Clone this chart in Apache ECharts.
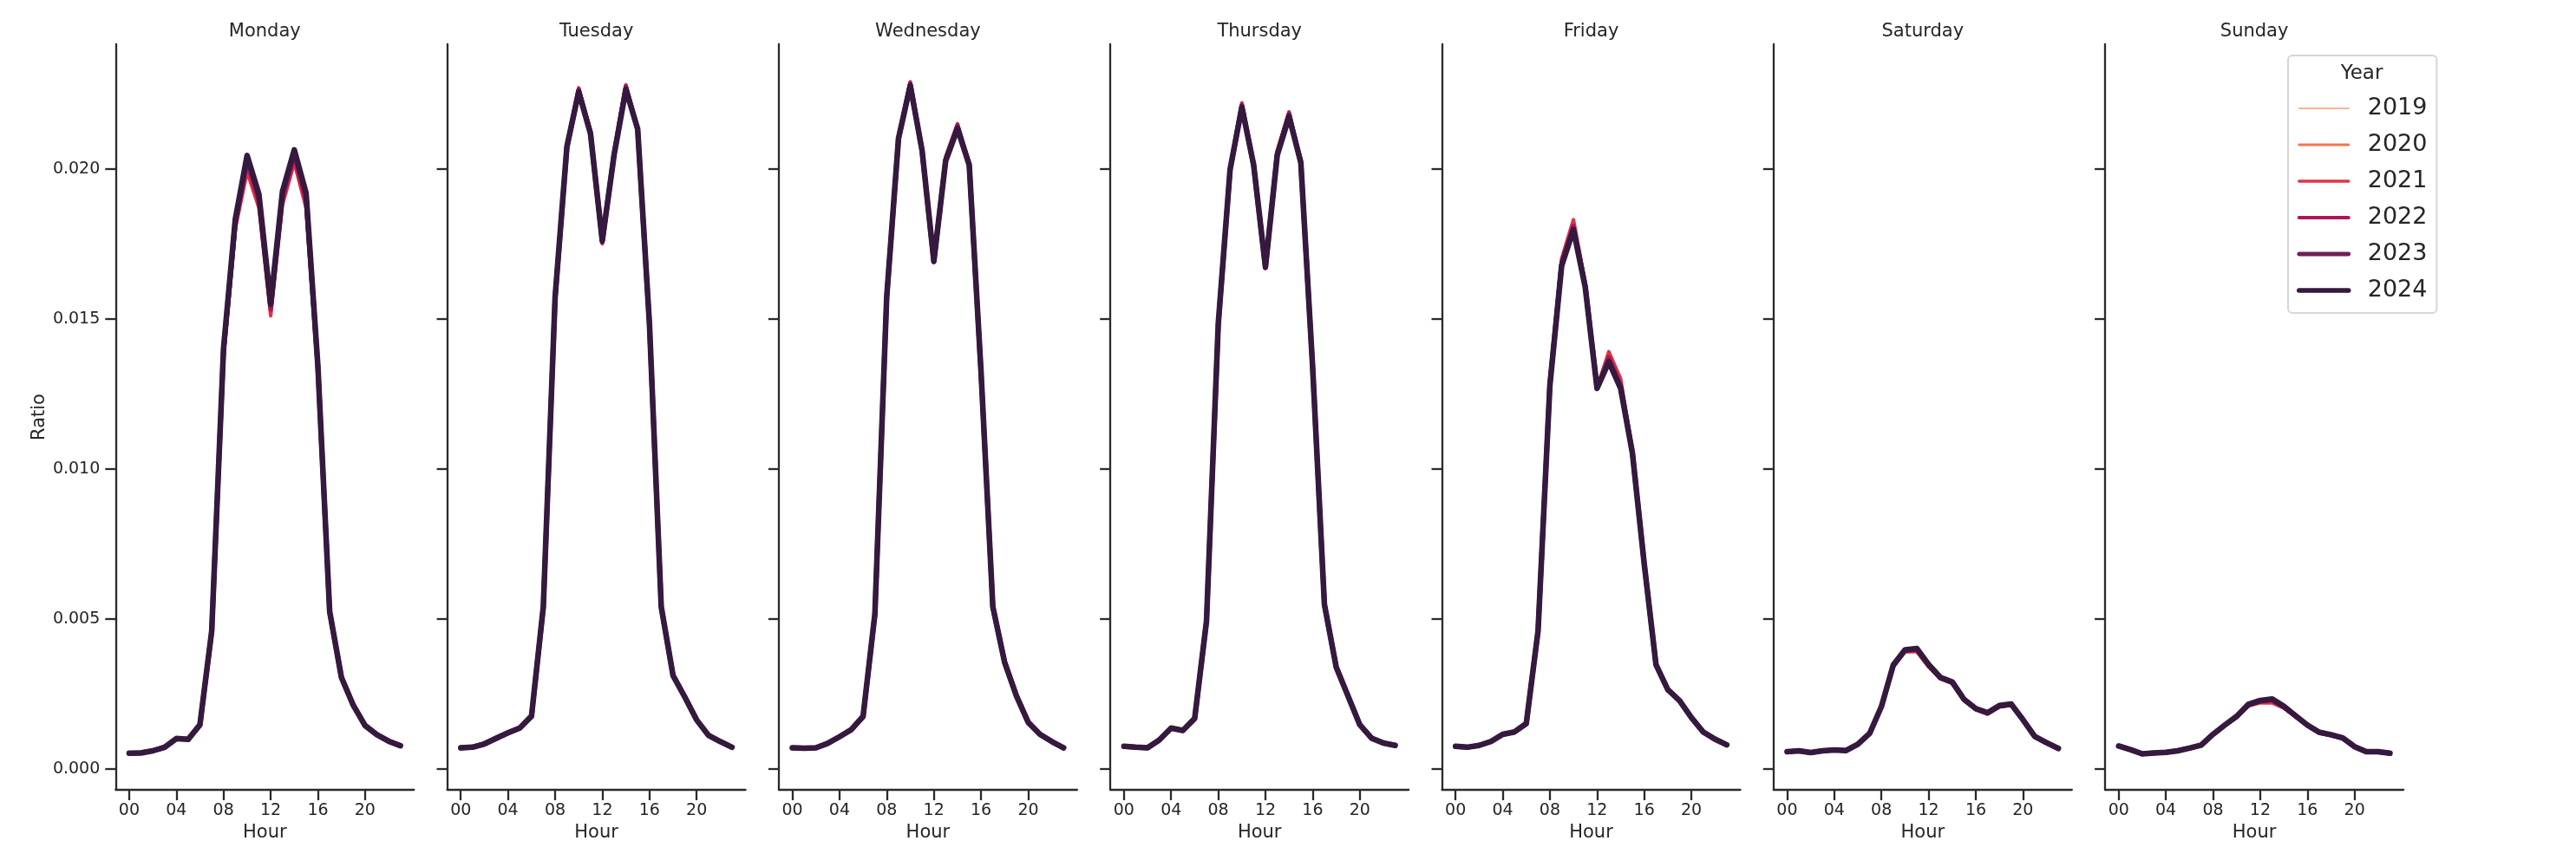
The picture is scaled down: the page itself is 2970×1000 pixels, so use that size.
<!DOCTYPE html>
<html>
<head>
<meta charset="utf-8">
<script src="https://cdn.jsdelivr.net/npm/echarts@6/dist/echarts.min.js"></script>
<style>html,body{margin:0;padding:0;background:#fff}#chart{width:2970px;height:1000px}</style>
</head>
<body>
<div id="chart"></div>
<script>
const hours = [0,1,2,3,4,5,6,7,8,9,10,11,12,13,14,15,16,17,18,19,20,21,22,23];
const days = ['Monday','Tuesday','Wednesday','Thursday','Friday','Saturday','Sunday'];
const years = ['2019','2020','2021','2022','2023','2024'];
const yearColors = ['#f6b48f','#f37651','#e13342','#ad1759','#701f57','#35193e'];
const yearWidths = [2.5, 3.3, 4.1, 4.9, 5.7, 6.5];
const xTickValues = [0,4,8,12,16,20];
const yTickValues = [0,0.005,0.01,0.015,0.02];

const mon2019 = [0.00052,0.00053,0.0006,0.00072,0.00101,0.00098,0.00147,0.00459,0.01395,0.01825,0.0204,0.0191,0.0155,0.0192,0.0206,0.0191,0.01342,0.00524,0.00304,0.00212,0.00144,0.00114,0.00092,0.00077];
const mon2020 = [0.00052,0.00054,0.0006,0.00072,0.001,0.00098,0.00146,0.00458,0.0139,0.0182,0.0203,0.019,0.0154,0.0191,0.0205,0.019,0.0134,0.00524,0.00305,0.00213,0.00145,0.00115,0.00093,0.00077];
const mon2021 = [0.00053,0.00055,0.00061,0.00073,0.00099,0.00097,0.00145,0.0045,0.0137,0.018,0.0199,0.0187,0.0151,0.0188,0.0202,0.0187,0.0132,0.00518,0.00308,0.00216,0.00147,0.00116,0.00094,0.00079];
const mon2022 = [0.00053,0.00054,0.00061,0.00072,0.001,0.00098,0.00146,0.00455,0.01385,0.0181,0.0202,0.0189,0.0153,0.019,0.0204,0.0189,0.0133,0.0052,0.00306,0.00214,0.00146,0.00115,0.00093,0.00078];
const mon2023 = [0.00052,0.00054,0.0006,0.00071,0.001,0.00099,0.00146,0.00458,0.01395,0.01826,0.02038,0.01908,0.01545,0.01918,0.02055,0.01912,0.0134,0.00523,0.00305,0.00213,0.00145,0.00114,0.00093,0.00077];
const mon2024 = [0.00052,0.00053,0.0006,0.00072,0.00101,0.00098,0.00147,0.0046,0.014,0.01832,0.02044,0.01915,0.0155,0.01924,0.02063,0.01919,0.01344,0.00525,0.00304,0.00212,0.00144,0.00114,0.00092,0.00077];

const tue2019 = [0.0007,0.00072,0.00083,0.00102,0.0012,0.00136,0.00176,0.0054,0.01571,0.02072,0.02252,0.02114,0.0176,0.02043,0.0226,0.0213,0.01483,0.0054,0.00311,0.00239,0.00163,0.00112,0.00091,0.00072];
const tue2020 = [0.0007,0.00072,0.00083,0.00102,0.0012,0.00136,0.00176,0.00539,0.0157,0.0207,0.0225,0.0211,0.0176,0.0204,0.0226,0.0213,0.01482,0.0054,0.00311,0.00239,0.00163,0.00112,0.00091,0.00072];
const tue2021 = [0.00071,0.00072,0.00082,0.001,0.00118,0.00134,0.00174,0.00534,0.0156,0.0207,0.0227,0.0212,0.0175,0.0205,0.0228,0.0213,0.01475,0.00537,0.00313,0.00241,0.00165,0.00113,0.00092,0.00073];
const tue2022 = [0.0007,0.00071,0.00082,0.00101,0.00119,0.00135,0.00175,0.00536,0.01565,0.0207,0.02265,0.0212,0.01755,0.0205,0.02275,0.0213,0.01478,0.00538,0.00312,0.0024,0.00164,0.00113,0.00091,0.00072];
const tue2023 = [0.0007,0.00072,0.00083,0.00101,0.0012,0.00136,0.00175,0.00538,0.01568,0.0207,0.0226,0.0212,0.01758,0.0205,0.0227,0.0213,0.0148,0.00539,0.00311,0.00239,0.00163,0.00112,0.00091,0.00072];
const tue2024 = [0.0007,0.00072,0.00083,0.00102,0.0012,0.00136,0.00176,0.0054,0.01572,0.02074,0.02256,0.02117,0.0176,0.02045,0.02264,0.02133,0.01484,0.0054,0.00311,0.00239,0.00163,0.00112,0.00091,0.00072];

const wed2019 = [0.0007,0.00069,0.0007,0.00085,0.00107,0.00131,0.00175,0.00516,0.01571,0.021,0.02274,0.0206,0.01692,0.02024,0.0213,0.0201,0.01323,0.0054,0.00355,0.00243,0.00155,0.00115,0.00091,0.0007];
const wed2020 = [0.0007,0.00069,0.0007,0.00085,0.00107,0.00131,0.00175,0.00515,0.0157,0.021,0.02275,0.0206,0.0169,0.02025,0.0213,0.0201,0.01322,0.0054,0.00355,0.00243,0.00155,0.00115,0.00091,0.0007];
const wed2021 = [0.00071,0.0007,0.0007,0.00085,0.00106,0.00129,0.00173,0.0051,0.01565,0.021,0.0229,0.0206,0.0169,0.0204,0.0215,0.0202,0.01315,0.00537,0.00356,0.00245,0.00157,0.00116,0.00092,0.00071];
const wed2022 = [0.0007,0.00069,0.0007,0.00085,0.00106,0.0013,0.00174,0.00512,0.01568,0.021,0.02285,0.0206,0.0169,0.0203,0.02145,0.0201,0.01318,0.00538,0.00355,0.00244,0.00156,0.00115,0.00091,0.0007];
const wed2023 = [0.0007,0.00069,0.0007,0.00085,0.00107,0.0013,0.00174,0.00514,0.0157,0.021,0.0228,0.0206,0.0169,0.0203,0.0214,0.0201,0.0132,0.0054,0.00355,0.00243,0.00155,0.00115,0.00091,0.0007];
const wed2024 = [0.0007,0.00069,0.0007,0.00085,0.00107,0.00131,0.00175,0.00516,0.01572,0.02101,0.02277,0.02061,0.01692,0.02026,0.02133,0.02013,0.01324,0.0054,0.00355,0.00243,0.00155,0.00115,0.00091,0.0007];

const thu2019 = [0.00075,0.00072,0.0007,0.00096,0.00136,0.00128,0.00168,0.00492,0.01483,0.01996,0.02202,0.02012,0.01673,0.02043,0.0217,0.0202,0.01339,0.00548,0.00339,0.00243,0.00147,0.00102,0.00086,0.00078];
const thu2020 = [0.00075,0.00072,0.0007,0.00096,0.00136,0.00128,0.00168,0.00491,0.01482,0.01995,0.022,0.0201,0.01672,0.0204,0.0217,0.0202,0.01338,0.00548,0.00339,0.00243,0.00147,0.00102,0.00086,0.00078];
const thu2021 = [0.00076,0.00073,0.00071,0.00095,0.00134,0.00127,0.00166,0.00487,0.01475,0.0199,0.0222,0.0201,0.0167,0.0206,0.0219,0.0202,0.01332,0.00545,0.00341,0.00245,0.00149,0.00103,0.00087,0.00079];
const thu2022 = [0.00075,0.00072,0.0007,0.00096,0.00135,0.00127,0.00167,0.00489,0.01478,0.01995,0.02213,0.0201,0.0167,0.02052,0.02185,0.0202,0.01335,0.00546,0.0034,0.00244,0.00148,0.00103,0.00086,0.00078];
const thu2023 = [0.00075,0.00072,0.0007,0.00096,0.00135,0.00128,0.00167,0.0049,0.0148,0.01995,0.0221,0.0201,0.0167,0.0205,0.0218,0.0202,0.01338,0.00547,0.00339,0.00243,0.00147,0.00102,0.00086,0.00078];
const thu2024 = [0.00075,0.00072,0.0007,0.00096,0.00136,0.00128,0.00168,0.00492,0.01484,0.01997,0.02205,0.02013,0.01673,0.02045,0.02173,0.02021,0.0134,0.00548,0.00339,0.00243,0.00147,0.00102,0.00086,0.00078];

const fri2019 = [0.00075,0.00072,0.00078,0.00091,0.00115,0.00123,0.00151,0.0046,0.01277,0.01678,0.01798,0.01606,0.01268,0.01358,0.01269,0.01052,0.00684,0.00347,0.00264,0.00227,0.00171,0.00123,0.00099,0.0008];
const fri2020 = [0.00075,0.00072,0.00078,0.00091,0.00115,0.00123,0.00151,0.0046,0.01278,0.0168,0.018,0.01607,0.01268,0.0136,0.0127,0.01053,0.00684,0.00347,0.00264,0.00227,0.00171,0.00123,0.00099,0.0008];
const fri2021 = [0.00076,0.00073,0.00078,0.0009,0.00114,0.00122,0.00149,0.00464,0.0129,0.017,0.0183,0.0162,0.0127,0.0139,0.013,0.0106,0.00688,0.00345,0.00262,0.00225,0.00169,0.00122,0.00098,0.00079];
const fri2022 = [0.00075,0.00072,0.00078,0.00091,0.00115,0.00122,0.0015,0.00462,0.01285,0.0169,0.0181,0.0161,0.0127,0.01372,0.0128,0.01056,0.00686,0.00346,0.00263,0.00226,0.0017,0.00123,0.00099,0.0008];
const fri2023 = [0.00075,0.00072,0.00078,0.00091,0.00115,0.00123,0.0015,0.00461,0.0128,0.0168,0.018,0.0161,0.0127,0.0136,0.0127,0.01054,0.00685,0.00347,0.00264,0.00227,0.00171,0.00123,0.00099,0.0008];
const fri2024 = [0.00075,0.00072,0.00078,0.00091,0.00115,0.00123,0.00151,0.0046,0.01276,0.01677,0.01797,0.01605,0.01268,0.01356,0.01268,0.01052,0.00684,0.00347,0.00264,0.00227,0.00171,0.00123,0.00099,0.0008];

const sat2019 = [0.00057,0.0006,0.00054,0.0006,0.00063,0.00061,0.00082,0.00117,0.00206,0.00342,0.00392,0.00394,0.00342,0.00301,0.00287,0.0023,0.00199,0.00184,0.00207,0.00213,0.00163,0.00107,0.00087,0.00068];
const sat2020 = [0.00057,0.0006,0.00054,0.0006,0.00063,0.00061,0.00081,0.00117,0.00205,0.00341,0.0039,0.00392,0.00341,0.003,0.00286,0.00229,0.00198,0.00183,0.00206,0.00213,0.00162,0.00107,0.00087,0.00068];
const sat2021 = [0.00058,0.0006,0.00055,0.0006,0.00063,0.00061,0.00081,0.00117,0.00205,0.0034,0.0039,0.0039,0.0034,0.003,0.00285,0.00228,0.00197,0.00182,0.00206,0.00212,0.00162,0.00107,0.00086,0.00068];
const sat2022 = [0.00057,0.0006,0.00054,0.0006,0.00063,0.00061,0.00081,0.00117,0.00206,0.00342,0.00393,0.00397,0.00344,0.00302,0.00287,0.0023,0.00199,0.00185,0.00208,0.00214,0.00163,0.00108,0.00087,0.00068];
const sat2023 = [0.00057,0.0006,0.00054,0.0006,0.00063,0.00061,0.00082,0.00118,0.00207,0.00344,0.00395,0.004,0.00346,0.00303,0.00288,0.00231,0.002,0.00186,0.0021,0.00215,0.00163,0.00108,0.00087,0.00068];
const sat2024 = [0.00057,0.0006,0.00054,0.0006,0.00063,0.00061,0.00082,0.00118,0.00208,0.00346,0.00397,0.00401,0.00348,0.00305,0.0029,0.00232,0.00201,0.00187,0.00211,0.00216,0.00164,0.00108,0.00087,0.00068];

const sun2019 = [0.00076,0.00064,0.0005,0.00053,0.00055,0.0006,0.00069,0.00079,0.00114,0.00145,0.00173,0.00211,0.00222,0.00224,0.00205,0.00175,0.00145,0.00121,0.00113,0.00102,0.00074,0.00057,0.00057,0.00052];
const sun2020 = [0.00076,0.00064,0.0005,0.00053,0.00055,0.0006,0.00069,0.00079,0.00114,0.00145,0.00172,0.0021,0.00221,0.00222,0.00204,0.00174,0.00144,0.0012,0.00112,0.00102,0.00074,0.00057,0.00057,0.00052];
const sun2021 = [0.00077,0.00065,0.00051,0.00053,0.00055,0.0006,0.00069,0.00079,0.00114,0.00144,0.00172,0.0021,0.0022,0.0022,0.00203,0.00173,0.00144,0.0012,0.00112,0.00102,0.00074,0.00057,0.00057,0.00052];
const sun2022 = [0.00076,0.00064,0.0005,0.00053,0.00055,0.0006,0.00069,0.00079,0.00114,0.00145,0.00173,0.00211,0.00224,0.00228,0.00205,0.00175,0.00145,0.00121,0.00113,0.00102,0.00074,0.00057,0.00057,0.00052];
const sun2023 = [0.00076,0.00064,0.0005,0.00053,0.00055,0.0006,0.00069,0.00079,0.00115,0.00146,0.00174,0.00213,0.00226,0.00231,0.00207,0.00176,0.00145,0.00121,0.00113,0.00103,0.00074,0.00057,0.00057,0.00052];
const sun2024 = [0.00076,0.00064,0.0005,0.00053,0.00055,0.0006,0.00069,0.00079,0.00115,0.00146,0.00175,0.00215,0.00228,0.00233,0.00209,0.00177,0.00146,0.00122,0.00114,0.00103,0.00074,0.00057,0.00057,0.00052];

const byYear = {
  '2019': [mon2019, tue2019, wed2019, thu2019, fri2019, sat2019, sun2019],
  '2020': [mon2020, tue2020, wed2020, thu2020, fri2020, sat2020, sun2020],
  '2021': [mon2021, tue2021, wed2021, thu2021, fri2021, sat2021, sun2021],
  '2022': [mon2022, tue2022, wed2022, thu2022, fri2022, sat2022, sun2022],
  '2023': [mon2023, tue2023, wed2023, thu2023, fri2023, sat2023, sun2023],
  '2024': [mon2024, tue2024, wed2024, thu2024, fri2024, sat2024, sun2024]
};

// layout
const FONT = 'DejaVu Sans';
const TXT = '#262626';
const AX = '#2b2b2b';
const P_LEFT0 = 133.3, P_STEP = 382.3, P_W = 344, P_TOP = 51, P_H = 860;

const grids = [], xAxes = [], yAxes = [], titles = [], series = [];
days.forEach((d, i) => {
  const left = P_LEFT0 + i * P_STEP;
  grids.push({left: left, top: P_TOP, width: P_W, height: P_H, containLabel: false});
  titles.push({text: d, left: left + P_W / 2, top: 26, textAlign: 'center', padding: 0,
    textStyle: {fontFamily: FONT, fontSize: 21, fontWeight: 'normal', color: TXT}});
  xAxes.push({
    type: 'value', gridIndex: i, min: -1.15, max: 24.15,
    axisLine: {show: true, onZero: false, lineStyle: {color: AX, width: 2.3}},
    axisTick: {show: true, length: 12, lineStyle: {color: AX, width: 2.3}, customValues: xTickValues},
    axisLabel: {show: true, customValues: xTickValues, margin: 15, fontFamily: FONT, fontSize: 19, color: TXT,
      formatter: v => String(v).padStart(2, '0')},
    splitLine: {show: false},
    name: 'Hour', nameLocation: 'middle', nameGap: 38,
    nameTextStyle: {fontFamily: FONT, fontSize: 21, color: TXT}
  });
  yAxes.push({
    type: 'value', gridIndex: i, min: -0.0007, max: 0.02415,
    axisLine: {show: true, onZero: false, lineStyle: {color: AX, width: 2.3}},
    axisTick: {show: true, length: 12, lineStyle: {color: AX, width: 2.3}, customValues: yTickValues},
    axisLabel: {show: i === 0, customValues: yTickValues, margin: 18, fontFamily: FONT, fontSize: 19, color: TXT,
      formatter: v => v.toFixed(3)},
    splitLine: {show: false},
    name: i === 0 ? 'Ratio' : '', nameLocation: 'middle', nameGap: 77,
    nameTextStyle: {fontFamily: FONT, fontSize: 21, color: TXT}
  });
});

years.forEach((y, yi) => {
  days.forEach((d, di) => {
    const vals = byYear[y][di];
    series.push({
      type: 'line', name: y, xAxisIndex: di, yAxisIndex: di,
      data: hours.map((h, k) => [h, vals[k]]),
      symbol: 'none', smooth: false, silent: true,
      lineStyle: {color: yearColors[yi], width: yearWidths[yi], join: 'round', cap: 'round'},
      itemStyle: {color: yearColors[yi]},
      emphasis: {disabled: true}
    });
  });
});

titles.push({text: 'Year', left: 2723, top: 74, textAlign: 'center', padding: 0,
  textStyle: {fontFamily: FONT, fontSize: 23, fontWeight: 'normal', color: TXT}});

const chart = echarts.init(document.getElementById('chart'), null, {renderer: 'canvas'});
chart.setOption({
  backgroundColor: '#ffffff',
  animation: false,
  title: titles,
  grid: grids,
  xAxis: xAxes,
  yAxis: yAxes,
  legend: {
    orient: 'vertical', left: 2638, top: 64,
    padding: [46, 11, 11, 10],
    itemWidth: 57, itemHeight: 14, itemGap: 12,
    borderColor: '#d6d6d6', borderWidth: 2, borderRadius: 5,
    backgroundColor: '#ffffff',
    selectedMode: false,
    itemStyle: {opacity: 0, borderWidth: 0},
    textStyle: {fontFamily: FONT, fontSize: 27, color: TXT, lineHeight: 30, padding: [0, 0, 0, 17]},
    data: years.map((y, i) => ({name: y, itemStyle: {opacity: 0, borderWidth: 0}, lineStyle: {width: yearWidths[i] * 0.85, color: yearColors[i], cap: 'round', opacity: 1}}))
  },
  series: series
});
</script>
</body>
</html>
